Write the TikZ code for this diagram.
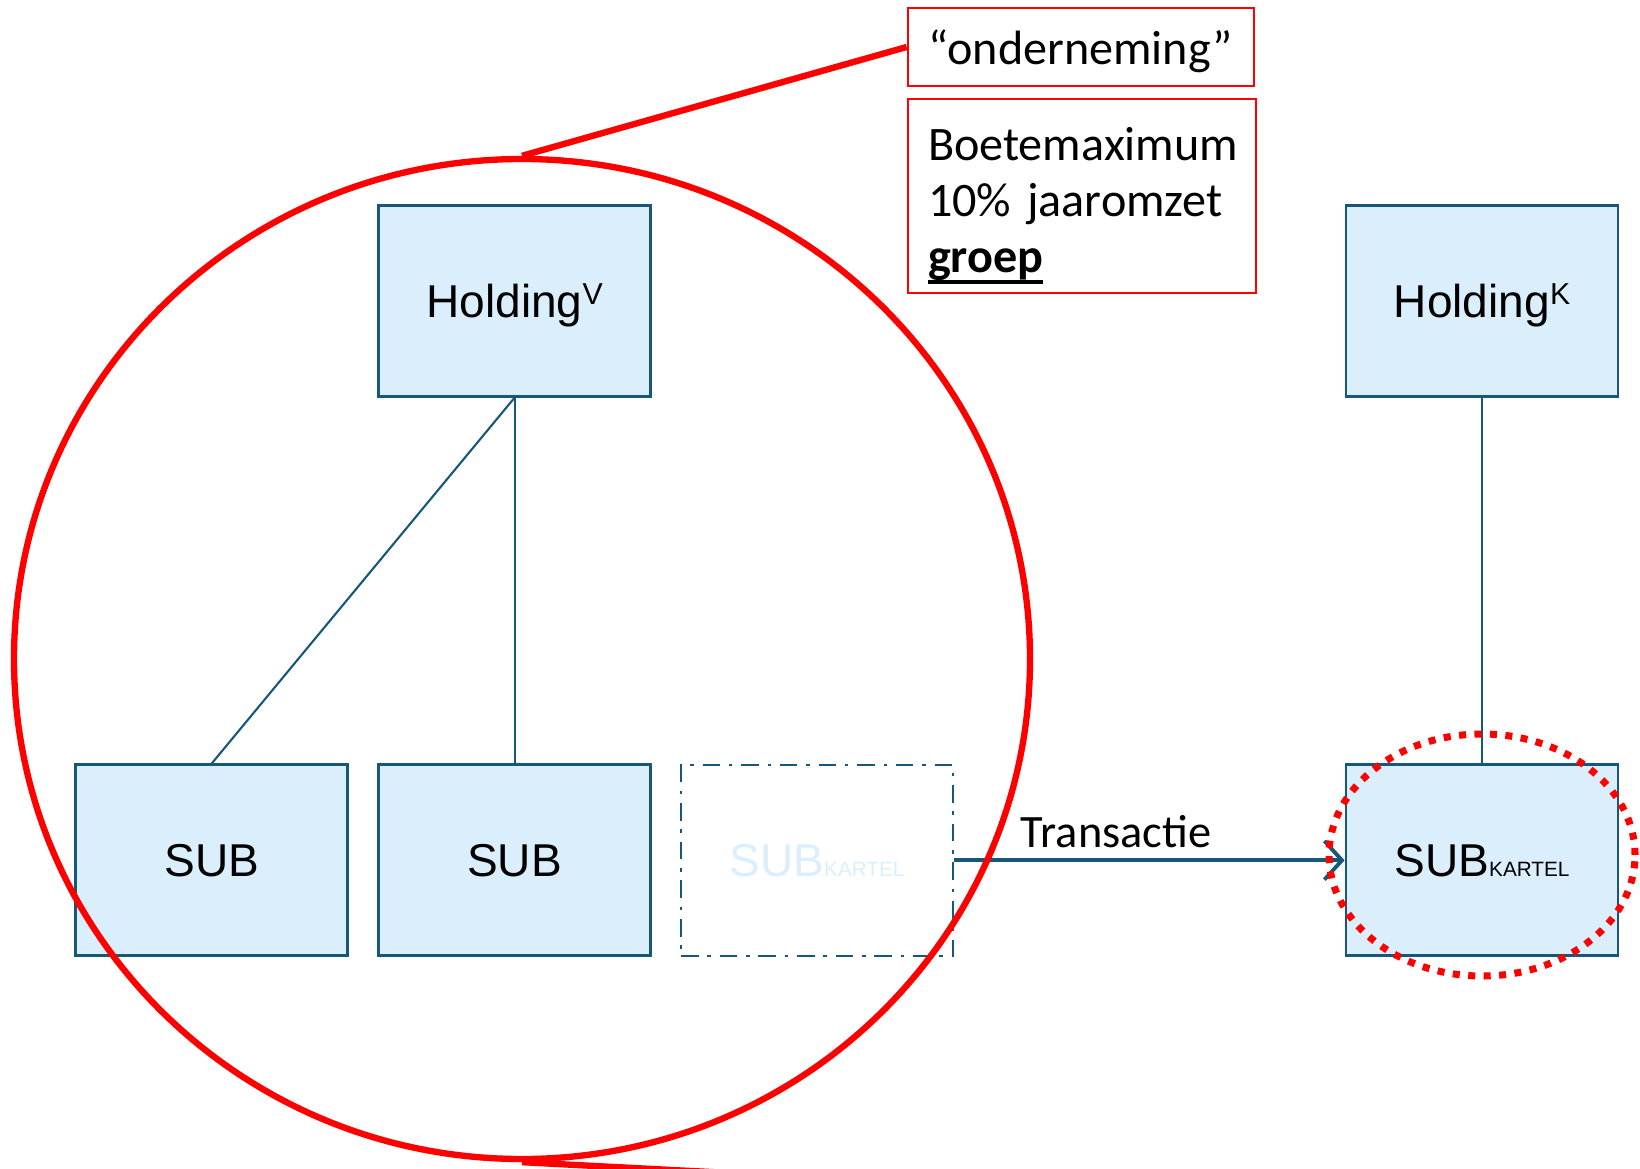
\documentclass[tikz,border=0pt]{standalone}
\usepackage{fontspec}
\setmainfont{Carlito}
\newfontfamily\arialfont{Liberation Sans}
\usetikzlibrary{arrows.meta,shapes.geometric}
\definecolor{boxline}{HTML}{17587A}
\definecolor{boxfill}{HTML}{DAEEFC}
\newcommand{\thickunder}[1]{\setbox0\hbox{#1}\rlap{\rule[-3.3pt]{\wd0}{1.2pt}}\box0}
\newcommand{\kartel}{{\fontsize{5.9}{6}\selectfont KARTEL}}
\newcommand{\holdsup}[1]{\raisebox{3.8pt}{\fontsize{8.6}{9}\selectfont #1}}

\begin{document}
\begin{tikzpicture}[
    entity/.style={draw=boxline, line width=0.8pt, fill=boxfill, minimum width=2.72cm, minimum height=1.91cm, inner sep=0pt, text depth=0pt, font=\arialfont\fontsize{13.1}{15}\selectfont},
    ghost/.style={entity, fill=none, line width=0.6pt, dash pattern=on 5pt off 2.5pt on 1pt off 2.5pt, text=boxfill},
    tie/.style={draw=boxline, line width=0.6pt},
    note/.style={draw=red, line width=0.8pt, inner sep=0pt, font=\fontsize{13.7}{16}\selectfont}]
  \useasboundingbox (0, 0) rectangle (16.4, 11.68);

  \node [entity] (holdv) at (5.146, 8.673) {Holding\holdsup{V}};
  \node [entity] (holdk) at (14.82, 8.673) {Holding\holdsup{K}};
  \node [entity] (sub1) at (2.118, 3.077) {SUB};
  \node [entity] (sub2) at (5.146, 3.077) {SUB};
  \node [ghost] (ghost) at (8.17, 3.077) {SUB\kartel};
  \node [entity] (subk) at (14.82, 3.077) {SUB\kartel};

  \draw [tie] (holdv.south) -- (sub1.north);
  \draw [tie] (holdv.south) -- (sub2.north);
  \draw [tie] (holdk.south) -- (subk.north);
  \draw [boxline, line width=1.1pt, -{Straight Barb[length=5pt, width=11pt]}] (ghost.east) -- node [above, pos=0.415, inner sep=3pt, text=black, font=\fontsize{13.2}{15}\selectfont] {Transactie} (subk.west);

  \node [note, minimum width=3.46cm, minimum height=0.78cm, text depth=0pt] (term) at (10.81, 11.21) {“onderneming”};
  \node [note, text width=3.08cm, align=left, inner xsep=0.2cm, minimum height=1.94cm] (fine) at (10.82, 9.72) {\rule{0pt}{15pt}Boetemaximum\\10\% jaaromzet\\\textbf{\thickunder{groep}}};

  \node [ellipse, draw=red, line width=1.8pt, minimum width=10.16cm, minimum height=10cm] (group) at (5.22, 5.09) {};
  \coordinate (tail) at (7.3, -0.05);
  \draw [red, line width=1.8pt] (group.north) -- (term.west);
  \draw [red, line width=1.8pt] (group.south) -- (tail);

  \node [ellipse, draw=red, line width=2pt, dash pattern=on 2pt off 2.4pt, minimum width=3.06cm, minimum height=2.42cm] (spot) at (14.82, 3.13) {};
\end{tikzpicture}
\end{document}
